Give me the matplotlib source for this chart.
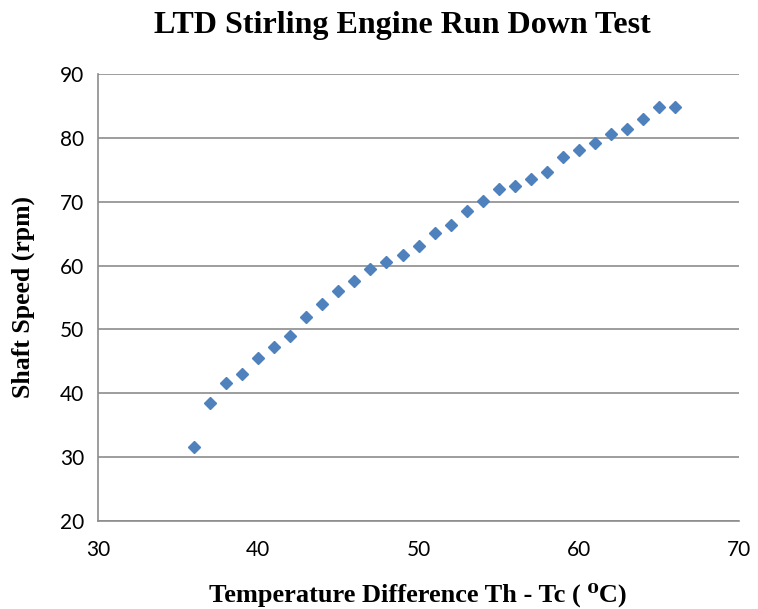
import matplotlib
matplotlib.use("Agg")
import matplotlib.pyplot as plt
import numpy as np

temp_diff = np.arange(36, 67)
shaft_speed = [31.6, 38.5, 41.6, 43.0, 45.5, 47.2, 49.0, 52.0, 54.0, 56.0,
               57.6, 59.5, 60.6, 61.7, 63.1, 65.1, 66.4, 68.5, 70.1, 72.0,
               72.5, 73.6, 74.7, 77.0, 78.1, 79.2, 80.6, 81.4, 83.0, 84.8, 84.8]
x_ticks = [30, 40, 50, 60, 70]
y_ticks = [20, 30, 40, 50, 60, 70, 80, 90]

fig = plt.figure(figsize=(7.58, 6.09), dpi=100)
ax = fig.add_axes([0.1293, 0.1445, 0.8457, 0.734])

ax.plot(temp_diff, shaft_speed, linestyle='none', marker='D', markersize=6.5,
        color='#4F81BD', markeredgecolor='#4F81BD')

ax.set_xlim(30, 70)
ax.set_ylim(20, 90)
ax.set_xticks(x_ticks)
ax.set_yticks(y_ticks)
ax.yaxis.grid(True, color='#8C8C8C', linewidth=1.2)
ax.set_axisbelow(True)
for s in ['top', 'right']:
    ax.spines[s].set_visible(False)
for s in ['left', 'bottom']:
    ax.spines[s].set_color('#8C8C8C')
    ax.spines[s].set_linewidth(1.2)
ax.tick_params(length=0, pad=10, labelsize=15)
for lab in ax.get_xticklabels() + ax.get_yticklabels():
    lab.set_fontfamily('Lato')
ax.tick_params(axis='x', pad=14)

serif = dict(family=['Liberation Serif', 'DejaVu Serif', 'DejaVu Sans'], weight='bold')
fig.text(402 / 758, 1 - 25 / 609, 'LTD Stirling Engine Run Down Test', fontsize=23,
         ha='center', va='center', **serif)
fig.text(418 / 758, 1 - 595 / 609, 'Temperature Difference Th - Tc ( \u2070C)',
         fontsize=19, ha='center', va='center', **serif)
fig.text(23 / 758, 1 - 297 / 609, 'Shaft Speed (rpm)', fontsize=18.5, rotation=90,
         ha='center', va='center', **serif)

fig.savefig('out.png', dpi=100)
